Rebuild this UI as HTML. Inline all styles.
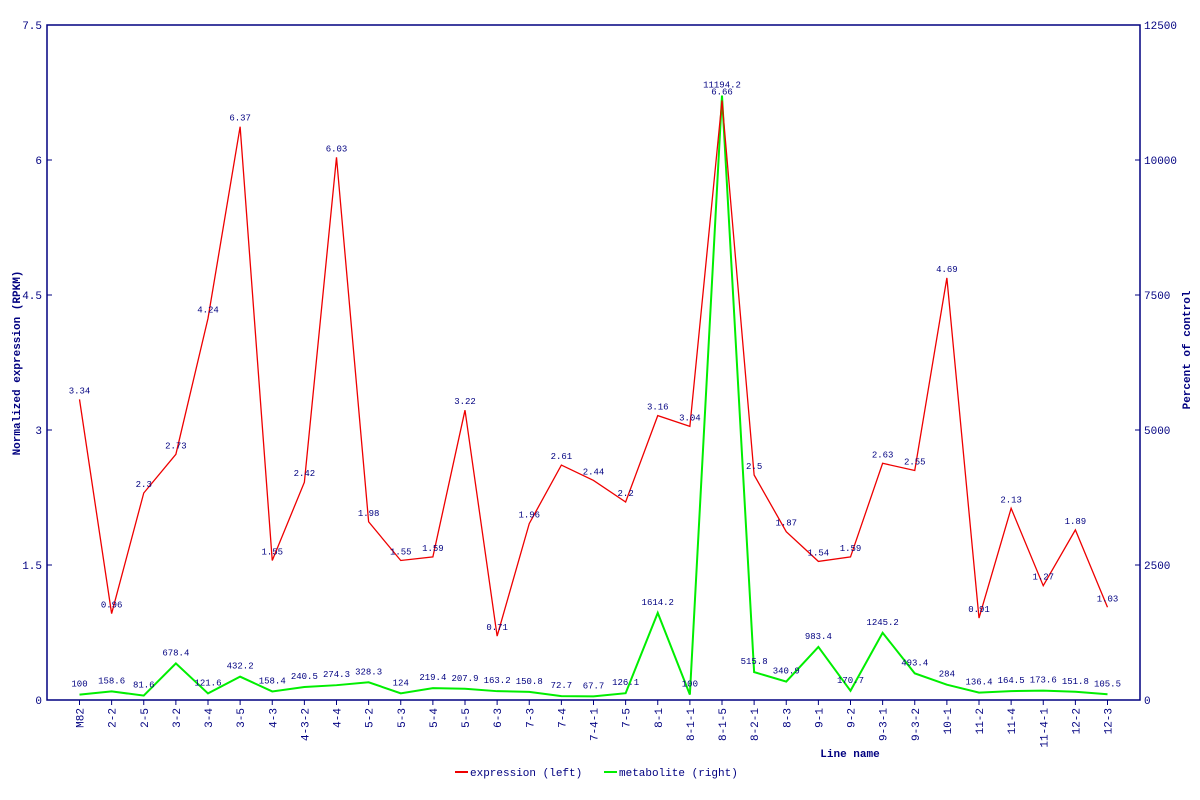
<!DOCTYPE html>
<html><head><meta charset="utf-8"><style>
html,body{margin:0;padding:0;background:#fff;width:1200px;height:800px;overflow:hidden}
svg text{font-family:"Liberation Mono","DejaVu Sans Mono",monospace;fill:#000080}
</style></head><body>
<svg id="c" width="1200" height="800" xmlns="http://www.w3.org/2000/svg"></svg>
<script>
const L=["M82","2-2","2-5","3-2","3-4","3-5","4-3","4-3-2","4-4","5-2","5-3","5-4","5-5","6-3","7-3","7-4","7-4-1","7-5","8-1","8-1-1","8-1-5","8-2-1","8-3","9-1","9-2","9-3-1","9-3-2","10-1","11-2","11-4","11-4-1","12-2","12-3"];
const E=[3.34,0.96,2.3,2.73,4.24,6.37,1.55,2.42,6.03,1.98,1.55,1.59,3.22,0.71,1.96,2.61,2.44,2.2,3.16,3.04,6.66,2.5,1.87,1.54,1.59,2.63,2.55,4.69,0.91,2.13,1.27,1.89,1.03];
const M=[100,158.6,81.6,678.4,121.6,432.2,158.4,240.5,274.3,328.3,124,219.4,207.9,163.2,150.8,72.7,67.7,126.1,1614.2,100,11194.2,515.8,340.9,983.4,170.7,1245.2,493.4,284,136.4,164.5,173.6,151.8,105.5];
const X0=47,X1=1140,Y0=25,Y1=700,N="#000080";
const xi=i=>79.5+32.125*i, ye=v=>Y1-v/7.5*675, ym=v=>Y1-v/12500*675;
let s='';
s+=`<path d="M${X0} ${Y0}H${X1}V${Y1}H${X0}Z" fill="none" stroke="${N}" stroke-width="1.5"/>`;
[0,1.5,3,4.5,6,7.5].forEach(v=>{let y=ye(v);s+=`<line x1="${X0}" x2="${X0+5}" y1="${y}" y2="${y}" stroke="${N}"/><text x="${X0-5}" y="${y+4}" font-size="11" text-anchor="end">${v}</text>`});
[0,2500,5000,7500,10000,12500].forEach(v=>{let y=ym(v);s+=`<line x1="${X1-5}" x2="${X1}" y1="${y}" y2="${y}" stroke="${N}"/><text x="${X1+4}" y="${y+4}" font-size="11">${v}</text>`});
L.forEach((l,i)=>{let x=xi(i);s+=`<line x1="${x}" x2="${x}" y1="${Y1}" y2="${Y1+5}" stroke="${N}"/><text transform="translate(${x+4},${Y1+8}) rotate(-90)" font-size="11" text-anchor="end">${l}</text>`});
s+=`<polyline fill="none" stroke="#00ee00" stroke-width="2" points="${M.map((v,i)=>xi(i)+','+ym(v)).join(' ')}"/>`;
s+=`<polyline fill="none" stroke="#ee0000" stroke-width="1.3" points="${E.map((v,i)=>xi(i)+','+ye(v)).join(' ')}"/>`;
M.forEach((v,i)=>{s+=`<text x="${xi(i)}" y="${ym(v)-8}" font-size="9" text-anchor="middle">${v}</text>`});
E.forEach((v,i)=>{s+=`<text x="${xi(i)}" y="${ye(v)-6}" font-size="9" text-anchor="middle">${v}</text>`});
s+=`<text transform="translate(20,363) rotate(-90)" font-size="11" font-weight="bold" text-anchor="middle">Normalized expression (RPKM)</text>`;
s+=`<text transform="translate(1190,350) rotate(-90)" font-size="11" font-weight="bold" text-anchor="middle">Percent of control</text>`;
s+=`<text x="850" y="757" font-size="11" font-weight="bold" text-anchor="middle">Line name</text>`;
s+=`<line x1="455" x2="468" y1="772" y2="772" stroke="#ee0000" stroke-width="2"/><text x="470" y="776" font-size="11">expression (left)</text>`;
s+=`<line x1="604" x2="617" y1="772" y2="772" stroke="#00ee00" stroke-width="2"/><text x="619" y="776" font-size="11">metabolite (right)</text>`;
document.getElementById('c').innerHTML=s;
</script>
</body></html>
